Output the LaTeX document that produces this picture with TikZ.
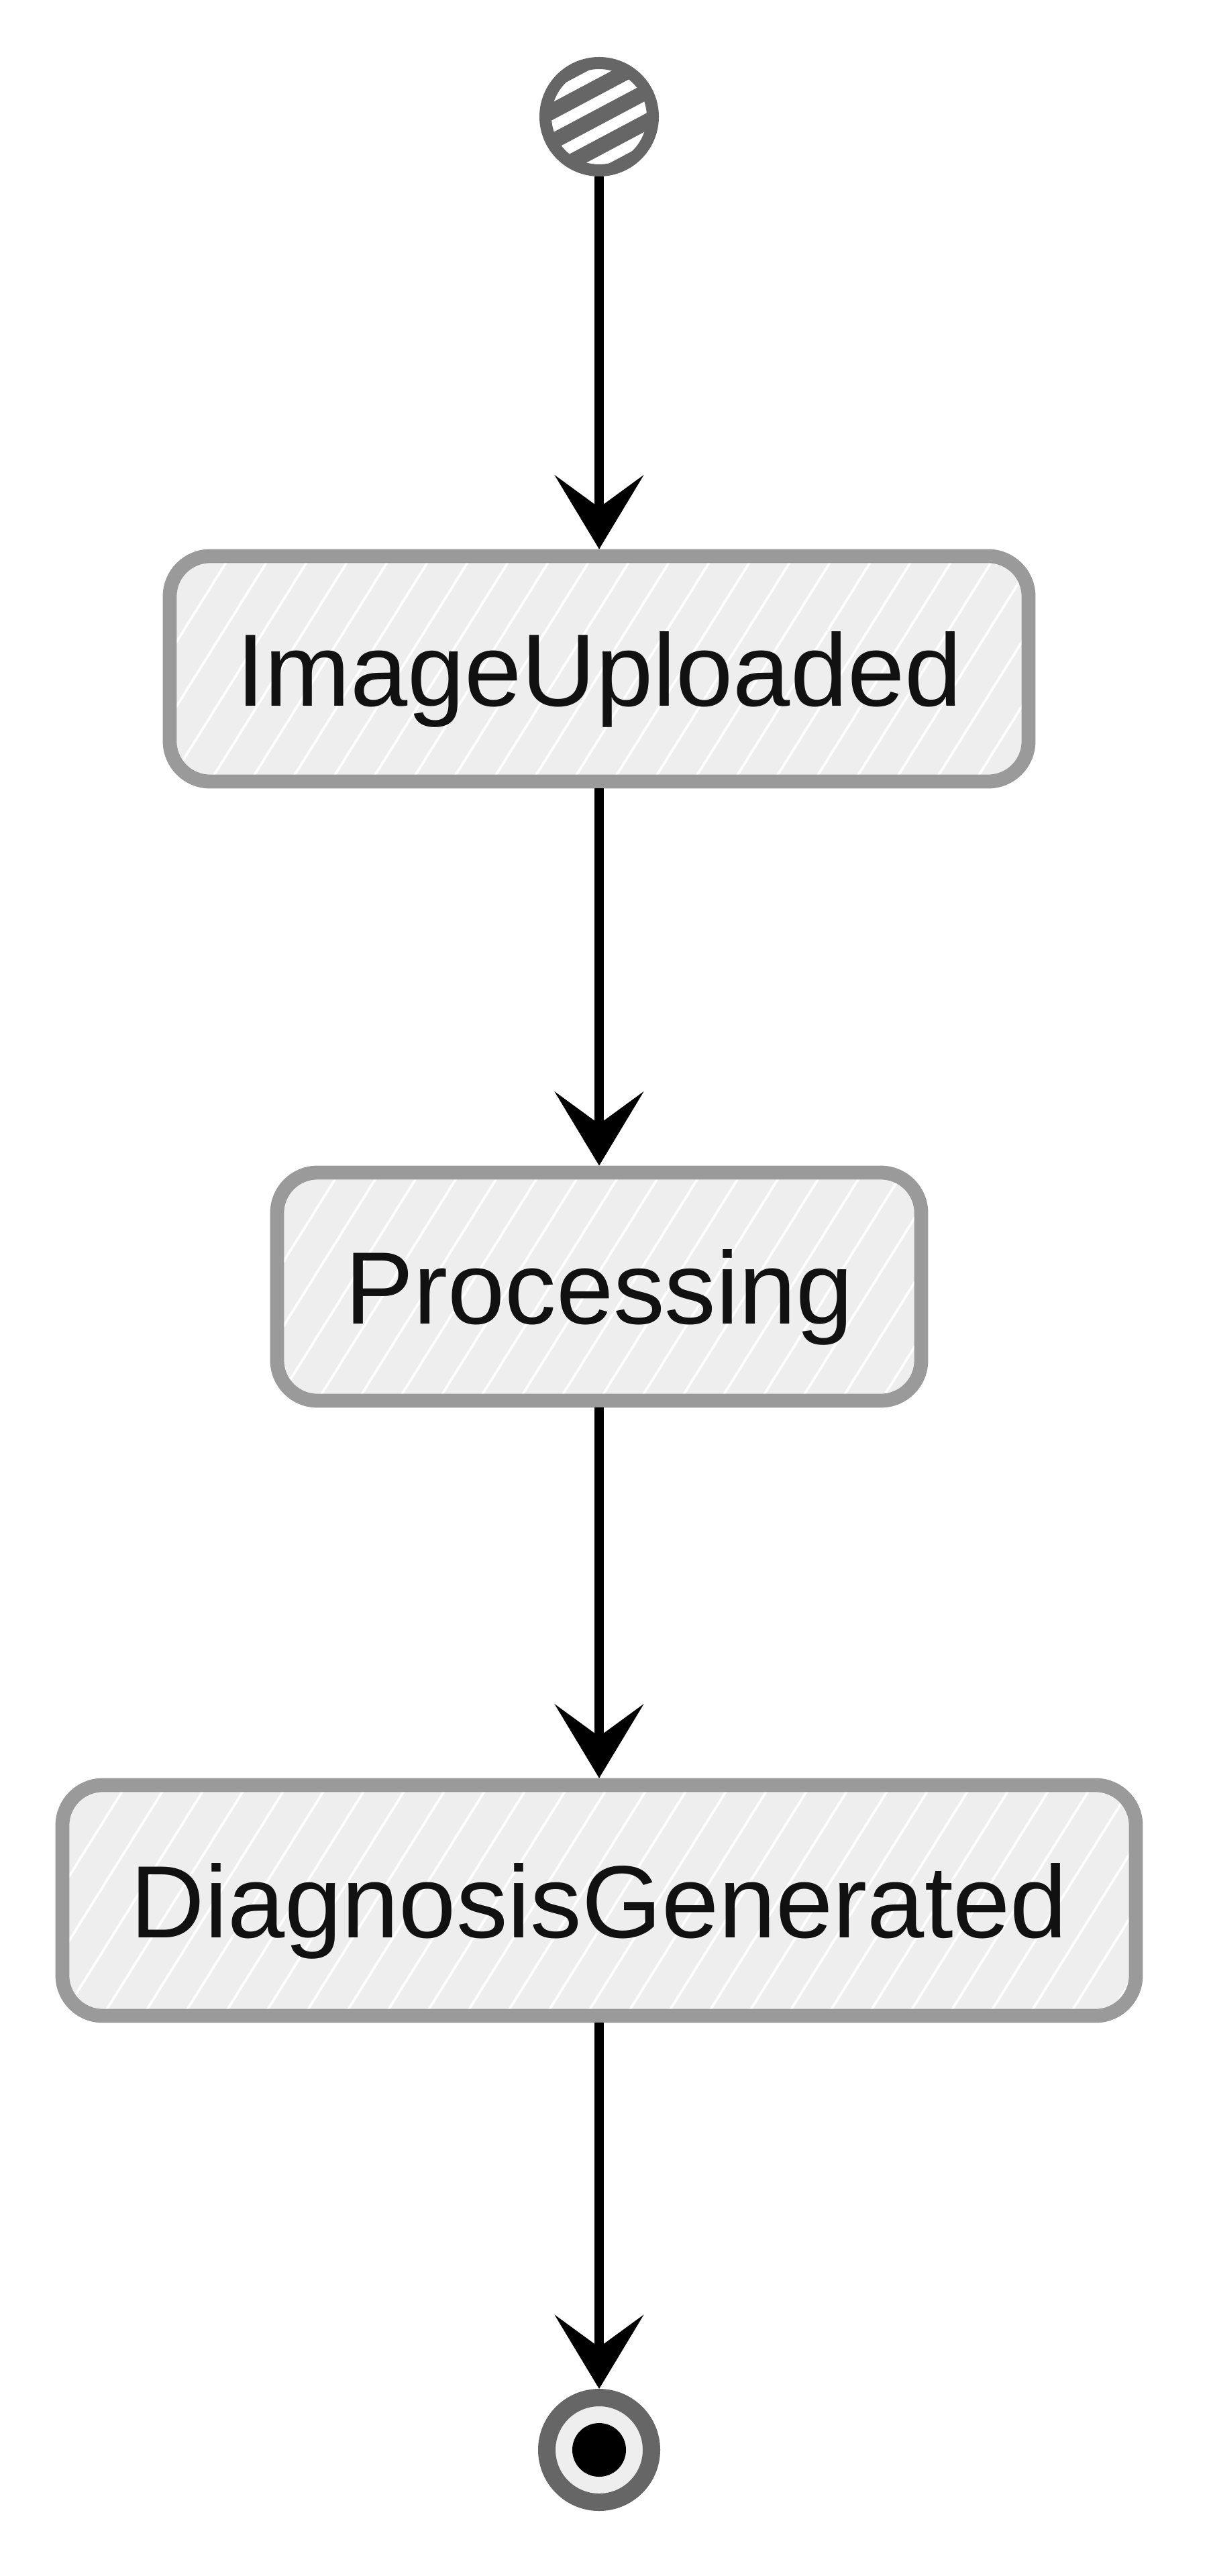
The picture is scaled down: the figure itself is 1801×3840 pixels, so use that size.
\documentclass[tikz,border=0pt]{standalone}
\usepackage{fontspec}
\setmainfont{Liberation Sans}
\usetikzlibrary{arrows.meta}
\definecolor{boxline}{HTML}{9A9A9A}
\definecolor{boxfill}{HTML}{EEEEEE}
\definecolor{darkgray}{HTML}{666666}
\definecolor{txt}{HTML}{111111}
\tikzset{
  statebox/.style={draw=boxline, line width=5.2pt, fill=boxfill, rounded corners=15pt,
    inner sep=0pt, text=txt, text depth=0pt, font=\fontsize{38.3pt}{44pt}\selectfont,
    path picture={\foreach \i in {-6,...,28}
      \draw[white, line width=0.9pt] ([xshift=\i*15pt]path picture bounding box.south west) -- ++(58:200pt);}},
  flow/.style={line width=3.3pt, draw=black, -{Stealth[length=27.5pt, width=33pt, inset=12pt]}},
  initstate/.style={circle, draw=darkgray, line width=4.5pt, fill=white, minimum size=40pt, inner sep=0pt,
    path picture={\foreach \o in {-20pt,-10pt,0pt,10pt,20pt}
      \draw[darkgray, line width=5.8pt] ([shift={(118:\o)}]path picture bounding box.center) ++(208:40pt) -- ++(28:80pt);}},
  finalring/.style={circle, draw=darkgray, line width=6.5pt, fill=boxfill, minimum size=39pt, inner sep=0pt},
  finaldot/.style={circle, fill=black, minimum size=20pt, inner sep=0pt}
}
\begin{document}
\begin{tikzpicture}[x=0.25pt, y=-0.25pt]
\useasboundingbox (0,0) rectangle (1801,3840);
\node[initstate] (start) at (893,174) {};
\node[statebox, minimum width=320pt, minimum height=84pt] (iu) at (893,997) {ImageUploaded};
\node[statebox, minimum width=240pt, minimum height=85pt] (proc) at (893,1918) {Processing};
\node[statebox, minimum width=400pt, minimum height=86pt] (diag) at (893,2833) {DiagnosisGenerated};
\node[finalring] (end) at (893,3652) {};
\node[finaldot] (enddot) at (end.center) {};
\draw[flow] (start.south) -- (iu.north);
\draw[flow] (iu.south) -- (proc.north);
\draw[flow] (proc.south) -- (diag.north);
\draw[flow] (diag.south) -- (end.north);
\end{tikzpicture}
\end{document}
